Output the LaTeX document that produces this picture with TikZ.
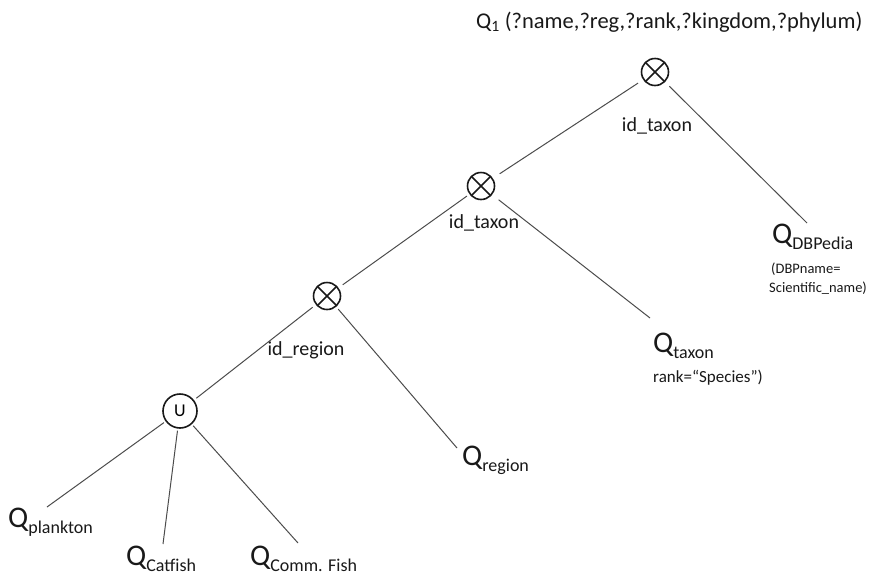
\documentclass[tikz,border=0pt]{standalone}
\usepackage{fontspec}
\setmainfont{Carlito}
\newcommand{\Qsub}[1]{{\fontsize{30}{30}\selectfont Q}{\fontsize{18}{18}\selectfont\raisebox{-6pt}{#1}}}
\begin{document}
\begin{tikzpicture}[x=1pt,y=-1pt,
  edge/.style={draw=black!70, line width=1pt},
  joinop/.style={circle, draw=black!90, line width=1.6pt, minimum size=27pt, inner sep=0pt,
    path picture={\draw[line width=1.5pt, black!90]
      (path picture bounding box.north west) -- (path picture bounding box.south east)
      (path picture bounding box.north east) -- (path picture bounding box.south west);}},
  unionop/.style={circle, draw=black!90, line width=1.6pt, minimum size=34pt, inner sep=0pt,
    font=\fontsize{18}{18}\selectfont},
  leaf/.style={anchor=base west, inner sep=0pt, text=black!90},
  lbl/.style={anchor=base, inner sep=0pt, text=black!90, font=\fontsize{20}{20}\selectfont},
  note/.style={anchor=base west, inner sep=0pt, text=black!90, font=\fontsize{17}{17}\selectfont}
]
\useasboundingbox[fill=white] (0,0) rectangle (869,576);

% operators
\node[joinop] (top) at (655,72) {};
\node[joinop] (mid) at (481,186) {};
\node[joinop] (low) at (327,296) {};
\node[unionop] (un) at (180,411) {U};

% labels
\node[leaf, font=\fontsize{22.5}{22.5}\selectfont] (q1) at (476,28) {Q\textsubscript{1} (?name,?reg,?rank,?kingdom,?phylum)};
\node[lbl] (lt) at (657,131) {id\_taxon};
\node[lbl] (lm) at (484,228) {id\_taxon};
\node[lbl] (lr) at (306,355) {id\_region};

% leaves
\node[leaf] (qdb) at (772,243) {\Qsub{DBPedia}};
\node[note, font=\fontsize{14.5}{14.5}\selectfont] (qdbn1) at (771,273) {(DBPname=};
\node[note, font=\fontsize{14.5}{14.5}\selectfont] (qdbn2) at (769,292) {Scientific\_name)};
\node[leaf] (qtax) at (653,352) {\Qsub{taxon}};
\node[note] (qtaxn) at (653,382) {rank=“Species”)};
\node[leaf] (qreg) at (462,465) {\Qsub{region}};
\node[leaf] (qpl) at (8,527) {\Qsub{plankton}};
\node[leaf] (qcat) at (126,565) {\Qsub{Catfish}};
\node[leaf] (qcom) at (250,565) {\Qsub{Comm. Fish}};

% connector tips near leaves
\coordinate (tdb) at (807,223);
\coordinate (ttax) at (650,318);
\coordinate (treg) at (457,448);
\coordinate (tpl) at (47,507);
\coordinate (tcat) at (163,544);
\coordinate (tcom) at (298,543);

% connectors
\draw[edge, shorten <=6pt, shorten >=8pt] (top) -- (mid);
\draw[edge, shorten <=6pt] (top) -- (tdb);
\draw[edge, shorten <=3pt, shorten >=5pt] (mid) -- (low);
\draw[edge, shorten <=8pt] (mid) -- (ttax);
\draw[edge, shorten <=4pt, shorten >=3pt] (low) -- (un);
\draw[edge, shorten <=3pt] (low) -- (treg);
\draw[edge, shorten <=2pt] (un) -- (tpl);
\draw[edge, shorten <=2pt] (un) -- (tcat);
\draw[edge, shorten <=2pt] (un) -- (tcom);
\end{tikzpicture}
\end{document}
